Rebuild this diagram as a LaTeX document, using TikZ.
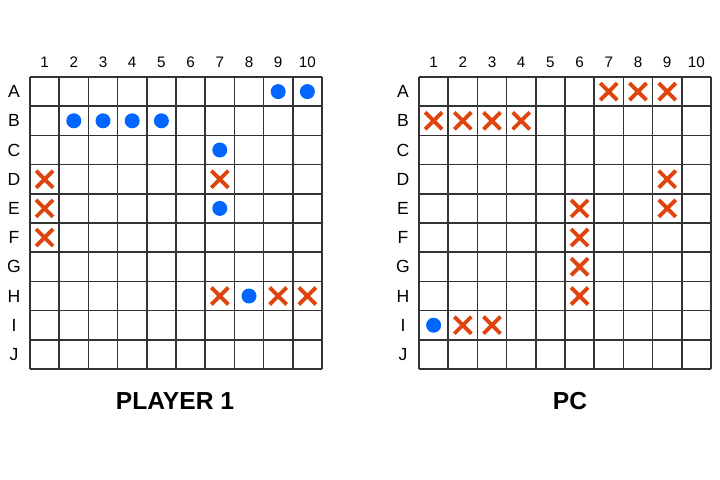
\documentclass[tikz,border=0pt]{standalone}
\usepackage{fontspec}
\setmainfont{Liberation Sans}
\usetikzlibrary{positioning}
\definecolor{shotblue}{RGB}{0,102,255}
\definecolor{hitred}{RGB}{224,68,14}

\begin{document}
\begin{tikzpicture}[
  x=0.03cm, y=-0.03cm,
  gridline/.style={draw=black!80, line width=1.4pt},
  lbl/.style={font=\fontsize{13}{13}\selectfont, inner sep=0pt},
  rowlbl/.style={font=\fontsize{15}{15}\selectfont, inner sep=0pt},
  miss/.style={fill=shotblue},
  hit/.style={draw=hitred, line width=3.3pt},
  title/.style={font=\fontsize{21}{21}\selectfont\bfseries, inner sep=0pt},
]
\useasboundingbox (0,0) rectangle (720,480);

% --- boards ---
\foreach \bx/\bn in {30/p, 419/c} {
  \foreach \i in {0,...,10} {
    \draw[gridline] (\bx+\i*29.2,77) -- (\bx+\i*29.2,369);
    \draw[gridline] (\bx,77+\i*29.2) -- (\bx+292,77+\i*29.2);
  }
  % column numbers
  \foreach \c in {1,...,10} {
    \node[lbl] (\bn-col\c) at (\bx+\c*29.2-14.6,62) {\c};
  }
  % row letters
  \foreach \r [count=\k] in {A,...,J} {
    \node[rowlbl] (\bn-row\r) at (\bx-16,77+\k*29.2-14.6) {\r};
  }
}

% --- shots ---
\foreach \c/\r in {9/1,10/1,2/2,3/2,4/2,5/2,7/3,7/5,8/8} {
  \fill[miss] (30+\c*29.2-14.6,77+\r*29.2-14.6) circle (7.5);
}
\foreach \c/\r in {1/4,7/4,1/5,1/6,7/8,9/8,10/8} {
  \draw[hit] (30+\c*29.2-14.6,77+\r*29.2-14.6) +(-8.5,-8.5) -- +(8.5,8.5) +(-8.5,8.5) -- +(8.5,-8.5);
}
\foreach \c/\r in {1/9} {
  \fill[miss] (419+\c*29.2-14.6,77+\r*29.2-14.6) circle (7.5);
}
\foreach \c/\r in {7/1,8/1,9/1,1/2,2/2,3/2,4/2,9/4,6/5,9/5,6/6,6/7,6/8,2/9,3/9} {
  \draw[hit] (419+\c*29.2-14.6,77+\r*29.2-14.6) +(-8.5,-8.5) -- +(8.5,8.5) +(-8.5,8.5) -- +(8.5,-8.5);
}

% --- titles ---
\node[title] (player) at (175,401) {PLAYER 1};
\node[title] (pc) at (570,401) {PC};

\end{tikzpicture}
\end{document}
